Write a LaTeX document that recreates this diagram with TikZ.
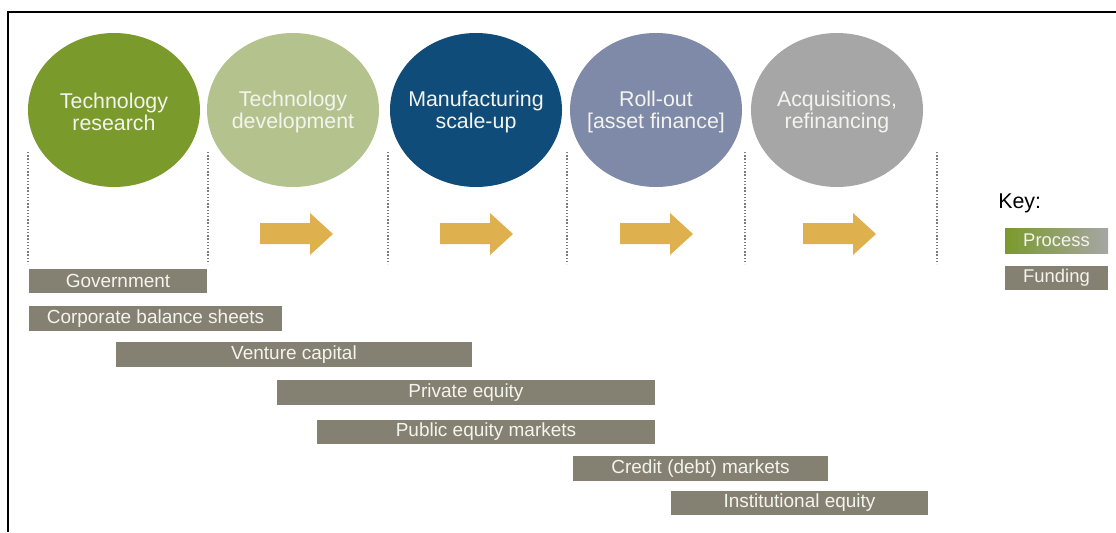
\documentclass[tikz,border=0pt]{standalone}
\usepackage{fontspec}
\setmainfont{Liberation Sans}
\usetikzlibrary{shapes.geometric}
\newlength\px \setlength\px{0.025cm}
\definecolor{cgreen}{HTML}{7A9A2B}
\definecolor{csage}{HTML}{B4C38E}
\definecolor{cblue}{HTML}{0F4C7A}
\definecolor{cslate}{HTML}{7E8AA8}
\definecolor{cgray}{HTML}{A6A6A6}
\definecolor{cgold}{HTML}{DFB04E}
\definecolor{cbar}{HTML}{858172}
\definecolor{cdot}{HTML}{7C7C7C}
\definecolor{ctext}{HTML}{F4F4EE}
\begin{document}
\begin{tikzpicture}[x=1\px, y=-1\px,
  stage/.style={ellipse, minimum width=172\px, minimum height=154\px, inner sep=0pt},
  stagetext/.style={inner sep=0pt, text=ctext, align=center, font=\fontsize{15.2}{15.6}\selectfont},
  fund/.style={rectangle, fill=cbar, text=ctext, minimum height=24.5\px, inner sep=0pt,
    font=\fontsize{13.5}{16}\selectfont},
  sep/.style={draw=cdot, line width=1.5\px, dash pattern=on 1.4\px off 1.8\px},
  goldarrow/.style={fill=cgold},
  frame/.style={draw=black, line width=1.5\px}]
\useasboundingbox (0,0) rectangle (1116,532);
\draw[frame] (8,532) -- (8,12) -- (1116,12);

% stages
\node[stage, fill=cgreen] (s1) at (114,110) {};
\node[stage, fill=csage]  (s2) at (293,110) {};
\node[stage, fill=cblue]  (s3) at (476,110) {};
\node[stage, fill=cslate] (s4) at (656,110) {};
\node[stage, fill=cgray]  (s5) at (837,110) {};
\node[stagetext] (t1) at ([yshift=-2\px]s1.center) {Technology\\research};
\node[stagetext] (t2) at ([yshift=-2\px]s2.center) {Technology\\development};
\node[stagetext] (t3) at ([yshift=-2\px]s3.center) {Manufacturing\\scale-up};
\node[stagetext] (t4) at ([yshift=-2\px]s4.center) {Roll-out\\{[}asset finance{]}};
\node[stagetext] (t5) at ([yshift=-2\px]s5.center) {Acquisitions,\\refinancing};

% dotted separators
\foreach \xx in {28,208,388,567,745,937}
  \draw[sep] (\xx,152) -- (\xx,264);

% arrows
\foreach \ax in {260,440,620,803}
  \fill[goldarrow] (\ax,223) -- (\ax+50,223) -- (\ax+50,213) -- (\ax+73,234)
    -- (\ax+50,255) -- (\ax+50,244) -- (\ax,244) -- cycle;

% funding bars
\node[fund, minimum width=178\px] (gov) at (118,281) {Government};
\node[fund, minimum width=253\px] (corp) at (155.5,318.5) {Corporate balance sheets};
\node[fund, minimum width=356\px] (vc) at (294,354.5) {Venture capital};
\node[fund, minimum width=378\px] (pe) at (466,392.5) {Private equity};
\node[fund, minimum width=338\px] (pub) at (486,432) {Public equity markets};
\node[fund, minimum width=255\px] (cred) at (700.5,468.5) {Credit (debt) markets};
\node[fund, minimum width=257\px] (inst) at (799.5,503) {Institutional equity};

% key
\node[anchor=base west, inner sep=0pt, font=\fontsize{15.2}{18}\selectfont] (key) at (998,208) {Key:};
\node[rectangle, minimum width=103\px, minimum height=25\px, inner sep=0pt,
  left color=cgreen, middle color=cblue, right color=cgray, text=ctext,
  font=\fontsize{13.1}{16}\selectfont] (kproc) at (1056.5,240.5) {Process};
\node[fund, minimum width=103\px, minimum height=24\px, font=\fontsize{13.1}{16}\selectfont] (kfund) at (1056.5,278) {Funding};
\end{tikzpicture}
\end{document}
